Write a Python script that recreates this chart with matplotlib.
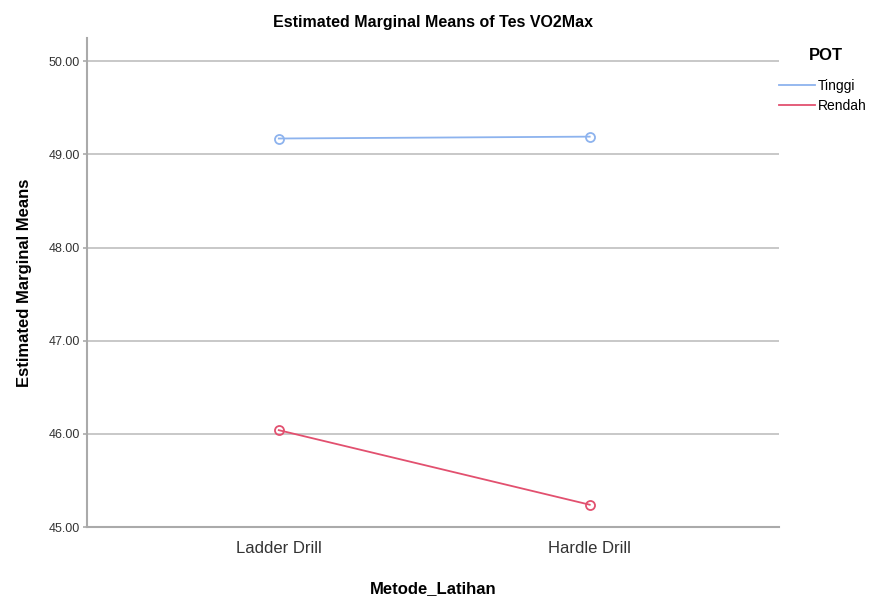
import matplotlib.pyplot as plt

# 数据
categories = ["Ladder Drill", "Hardle Drill"]
tinggi = [49.17, 49.19]
rendah = [46.04, 45.24]
series_names = ["Tinggi", "Rendah"]
y_ticks = [45.0, 46.0, 47.0, 48.0, 49.0, 50.0]

plt.rcParams['font.family'] = ['Liberation Sans', 'DejaVu Sans']

fig = plt.figure(figsize=(8.74, 6.01), dpi=100)
ax = fig.add_axes([0.0995, 0.123, 0.7915, 0.814])

x = list(range(len(categories)))
ax.plot(x, tinggi, color="#8db3ee", lw=1.3, marker='o', ms=6.5,
        mfc='none', mew=1.3, label=series_names[0])
ax.plot(x, rendah, color="#e2506f", lw=1.3, marker='o', ms=6.5,
        mfc='none', mew=1.3, label=series_names[1])

# 坐标轴
ax.set_xlim(-0.617, 1.608)
ax.set_ylim(45.0, 50.25)
ax.set_yticks(y_ticks)
ax.set_yticklabels([f"{v:.2f}" for v in y_ticks], fontsize=9, color="#333333")
ax.set_xticks(x)
ax.set_xticklabels(categories, fontsize=12, color="#333333")
ax.tick_params(axis='x', length=0, pad=10)
ax.tick_params(axis='y', length=3, color="#aaaaaa", width=1.2, pad=2)
ax.yaxis.grid(True, color="#c8c8c8", lw=1.4)
ax.set_axisbelow(True)
for s in ["top", "right"]:
    ax.spines[s].set_visible(False)
for s in ["left", "bottom"]:
    ax.spines[s].set_color("#aaaaaa")
    ax.spines[s].set_linewidth(1.5)

# 标签
ax.set_title("Estimated Marginal Means of Tes VO2Max", fontsize=11.5,
             fontweight='bold', pad=8)
ax.set_ylabel("Estimated Marginal Means", fontsize=12, fontweight='bold', labelpad=12)
ax.set_xlabel("Metode_Latihan", fontsize=12, fontweight='bold', labelpad=18)

# 图例
fig.text(826 / 874, 1 - 55 / 601, "POT", fontsize=12, fontweight='bold',
         ha='center', va='center')
leg = fig.legend(loc='upper left', bbox_to_anchor=(779 / 874, 1 - 79 / 601),
                 frameon=False, fontsize=10, handlelength=2.6,
                 handletextpad=0.2, labelspacing=0.45, borderaxespad=0.0,
                 borderpad=0.0)
for h in leg.get_lines():
    h.set_marker('')

fig.savefig('out.png', dpi=100)
